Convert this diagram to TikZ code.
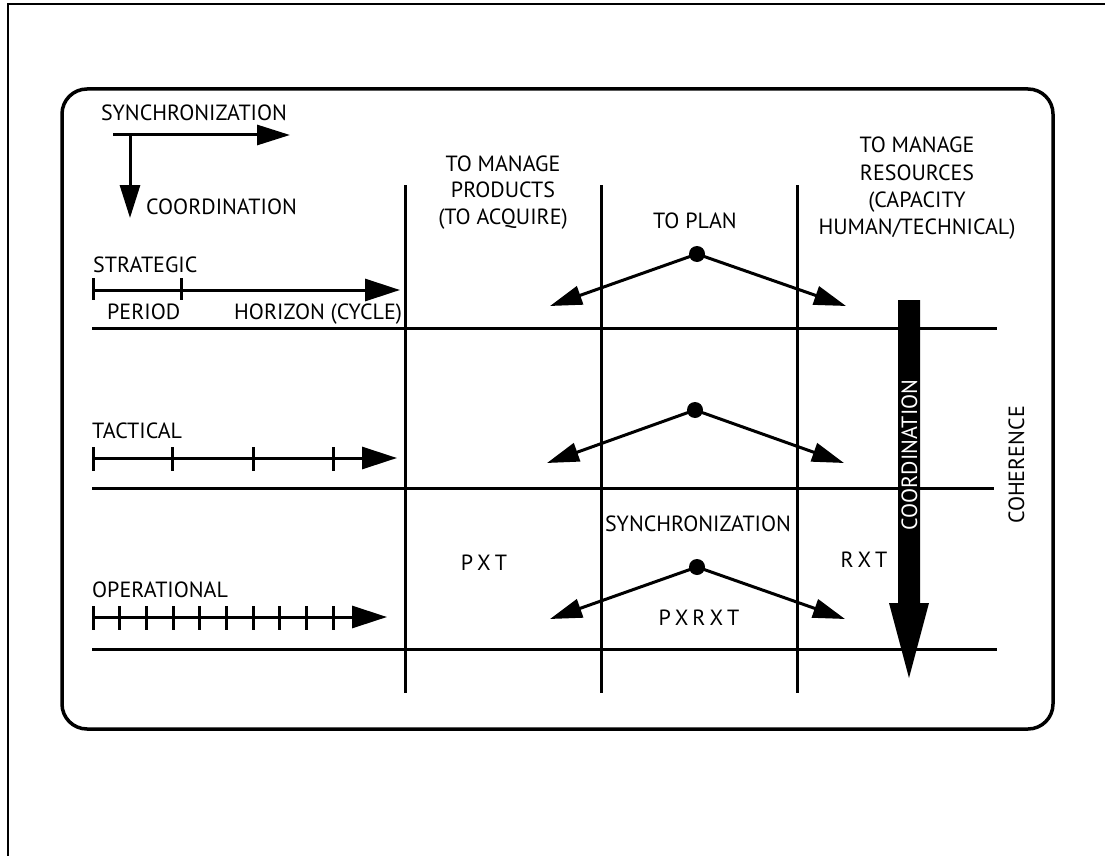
\documentclass[tikz,border=0pt]{standalone}
\usepackage{fontspec}
\setmainfont{PT Sans}
\usetikzlibrary{arrows.meta}
\tikzset{
  lab/.style={font=\fontsize{22}{26}\selectfont, inner sep=0pt, anchor=base},
  labw/.style={lab, anchor=base west},
  gridline/.style={line width=3pt},
  tickline/.style={line width=3pt},
  timearrow/.style={line width=3pt, -{Triangle[length=35pt,width=22pt]}},
  legarrow/.style={line width=3pt, -{Triangle[length=33pt,width=20pt]}},
  planarrow/.style={line width=3pt, -{Triangle[length=32pt,width=19pt]}},
  dot/.style={circle, fill=black, inner sep=0pt, minimum size=16pt},
}
\newcommand{\ls}{\hspace{4pt}}
\begin{document}
\begin{tikzpicture}[x=1pt,y=-1pt]
\useasboundingbox (0,0) rectangle (1105,856);
% outer frame (cropped)
\draw[line width=1.5pt] (1105,4) -- (8,4) -- (8,856);
% main rounded box
\draw[line width=3.5pt, rounded corners=25pt] (62,89) rectangle (1053,729);

% legend
\node[lab] (syncL) at (194,121) {SYNCHRONIZATION};
\node[labw] (coordL) at (146,214) {COORDINATION};
\coordinate (legO) at (113,135);
\coordinate (legR) at (290,135);
\coordinate (legT) at (130,135);
\coordinate (legD) at (130,218);
\draw[legarrow] (legO) -- (legR);
\draw[legarrow] (legT) -- (legD);

% level labels
\node[labw] (strat) at (93,272) {STRATEGIC};
\node[labw] (period) at (107,319) {PERIOD};
\node[labw] (horizon) at (234,319) {HORIZON (CYCLE)};
\node[labw] (tact) at (92,438) {TACTICAL};
\node[labw] (oper) at (92,597) {OPERATIONAL};

% time lines
\draw[timearrow] (92,290) -- (400,290);
\foreach \x in {93,181} \draw[tickline] (\x,278) -- (\x,300);
\draw[timearrow] (92,458) -- (397,458);
\foreach \x in {93,172,253,333} \draw[tickline] (\x,447) -- (\x,471);
\draw[timearrow] (92,617) -- (387,617);
\foreach \k in {0,...,9} \draw[tickline] ({93+\k*26.67},606) -- ({93+\k*26.67},630);

% grid
\draw[gridline] (92,328) -- (997,328);
\draw[gridline] (92,488) -- (994,488);
\draw[gridline] (92,649) -- (997,649);
\foreach \x in {405,601,797} \draw[gridline] (\x,185) -- (\x,693);

% column headers
\node[lab] (prod1) at (503,171) {TO MANAGE};
\node[lab] (prod2) at (503,197) {PRODUCTS};
\node[lab] (prod3) at (503,224) {(TO ACQUIRE)};
\node[lab] (plan) at (695,228) {TO PLAN};
\node[lab] (res1) at (917,153) {TO MANAGE};
\node[lab] (res2) at (917,180) {RESOURCES};
\node[lab] (res3) at (917,207) {(CAPACITY};
\node[lab] (res4) at (917,234) {HUMAN/TECHNICAL)};

% plan arrows
\node[dot] (d1) at (697,254) {};
\node[dot] (d2) at (695,410) {};
\node[dot] (d3) at (697,567) {};
\coordinate (l1) at (550,306); \coordinate (r1) at (846,306);
\coordinate (l2) at (547,463); \coordinate (r2) at (844,463);
\coordinate (l3) at (550,619); \coordinate (r3) at (845,619);
\foreach \i in {1,2,3} {
  \draw[planarrow] (d\i.center) -- (l\i);
  \draw[planarrow] (d\i.center) -- (r\i);
}

% inner texts
\node[lab] (syncM) at (698,531) {SYNCHRONIZATION};
\node[lab] (pxrxt) at (699,625) {P\ls X\ls R\ls X\ls T};
\node[lab] (rxt) at (864,567) {R\ls X\ls T};
\node[lab] (pxt) at (484,570) {P\ls X\ls T};

% big coordination arrow
\fill (898,300) -- (920,300) -- (920,603) -- (929,603) -- (909,678) -- (889,603) -- (898,603) -- cycle;
\node[lab, anchor=center, rotate=90, text=white] (coordV) at (909.5,455) {COORDINATION};
\node[lab, anchor=center, rotate=90] (coher) at (1016.5,465) {COHERENCE};
\end{tikzpicture}
\end{document}
